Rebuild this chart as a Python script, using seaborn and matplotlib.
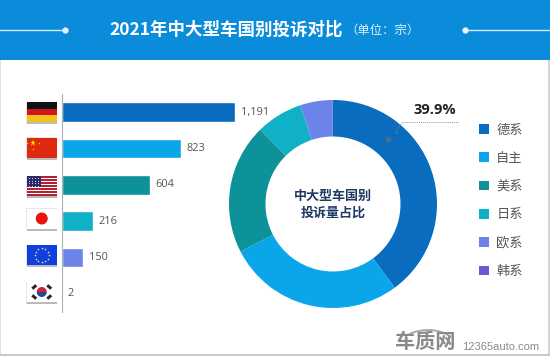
import numpy as np
import pandas as pd
import matplotlib
matplotlib.use('Agg')
import matplotlib.pyplot as plt
from matplotlib.patches import Rectangle, Circle, Wedge, Arc
import seaborn as sns

W, H = 550, 356

origins = ['德系', '自主', '美系', '日系', '欧系', '韩系']
complaints = [1191, 823, 604, 216, 150, 2]
colors = ['#0A6CBE', '#0BA6EA', '#0C9298', '#10B1C6', '#6C84EA', '#6A58D6']
title = '2021年中大型车国别投诉对比'
unit = '（单位：宗）'
center_label = '中大型车国别\n投诉量占比'
share_label = '39.9%'

sns.set_theme(style='white')
plt.rcParams['font.family'] = ['Noto Sans CJK SC', 'DejaVu Sans']

fig = plt.figure(figsize=(W / 100, H / 100), dpi=100, facecolor='white')


def px_axes(left, top, right, bottom, **kw):
    return fig.add_axes([left / W, 1 - bottom / H, (right - left) / W, (bottom - top) / H], **kw)


# overlay in pixel coords for header, flags, frame
bg = px_axes(0, 0, W, H, zorder=0)
bg.set_xlim(0, W)
bg.set_ylim(H, 0)
bg.axis('off')

bg.plot([0, 0], [60, H], color='#E2E2E2', lw=1.5, solid_capstyle='butt')
bg.plot([W, W], [60, H], color='#D5D5D5', lw=3, solid_capstyle='butt')
bg.plot([0, W], [355, 355], color='#C9C9C9', lw=1.5, solid_capstyle='butt')
bg.add_patch(Rectangle((0, 0), W, 60, color='#0A8CDB', lw=0))
bg.plot([0, 65], [30, 30], color='#CFEAFA', lw=1)
bg.plot([465, W], [30, 30], color='#CFEAFA', lw=1)
bg.plot([65, 465], [30, 30], ls='none', marker='o', ms=3.5, color='#E4F4FD')
bg.text(109, 29.5, title, color='white', fontsize=12.6, fontweight='bold', ha='left', va='center')
bg.text(345, 30.5, unit, color='#DCF0FB', fontsize=8.9, ha='left', va='center')

# bars
ax = px_axes(61.5, 94, 61.5 + 1300 * 0.1457, 312, zorder=2)
ax.patch.set_alpha(0)
df = pd.DataFrame({'origin': origins, 'complaints': complaints})
sns.barplot(data=df, x='complaints', y='origin', hue='origin', palette=colors, orient='h',
            width=0.55, saturation=1, legend=False, ax=ax)
ax.set_xlim(0, 1300)
ax.set_ylim(5.5, -0.5)
ax.set(xlabel='', ylabel='', xticks=[], yticks=[])
sns.despine(ax=ax, top=True, right=True, bottom=True)
ax.spines['left'].set_color('#B0B0B0')
ax.spines['left'].set_linewidth(0.8)
for c in ax.containers:
    ax.bar_label(c, fmt='{:,.0f}', padding=4, fontsize=7.9, color='#555555', family='Open Sans')


# flags
def flag_base(cy):
    # soft shadow round the flag, heavier along the bottom
    bg.add_patch(Rectangle((x0 - 0.8, cy - 10.5), fw + 1.6, 22, color='#E6E6E6', lw=0))
    bg.add_patch(Rectangle((x0 - 0.3, cy - 8), fw + 0.6, 20, color='#BBBBBB', lw=0))


def stars(cx, cy, r, n, color, ms=1.2):
    a = np.linspace(0, 2 * np.pi, n, endpoint=False)
    bg.plot(cx + r * np.cos(a), cy + r * np.sin(a), ls='none', marker='*', ms=ms, color=color, mew=0)


x0, fw = 27, 29.5

cy = 112
flag_base(cy)
for i, c in enumerate(['#111111', '#D2141C', '#F4C21C']):
    bg.add_patch(Rectangle((x0, cy - 10 + i * 6.6), fw, 6.7, color=c, lw=0))

cy = 147.5
flag_base(cy)
bg.add_patch(Rectangle((x0, cy - 10), fw, 20, color='#DE2910', lw=0))
bg.plot(32.5, cy - 5, marker='*', ms=5, color='#FFDE00', mew=0)
stars(33, cy - 5, 6, 4, '#FFDE00', 1.6)

cy = 186
flag_base(cy)
for i in range(13):
    bg.add_patch(Rectangle((x0, cy - 10 + i * 20 / 13), fw, 20 / 13,
                           color='#B22234' if i % 2 == 0 else 'white', lw=0))
bg.add_patch(Rectangle((x0, cy - 10), 14, 10.8, color='#2A2A6A', lw=0))
for sx in np.arange(x0 + 2, x0 + 14, 3):
    for sy in np.arange(cy - 8, cy, 2.5):
        bg.plot(sx, sy, marker='o', ms=0.7, color='#DDDDEE', mew=0)

cy = 218.5
flag_base(cy)
bg.add_patch(Rectangle((x0, cy - 10), fw, 20, color='white', lw=0))
bg.add_patch(Circle((x0 + fw / 2, cy), 6, color='#EE1111', lw=0))

cy = 255
flag_base(cy)
bg.add_patch(Rectangle((x0, cy - 10), fw, 20, color='#0F3FE0', lw=0))
stars(x0 + fw / 2, cy, 7, 12, '#F4E36A', 2)

cy = 292
flag_base(cy)
bg.add_patch(Rectangle((x0, cy - 10), fw, 20, color='white', lw=0))
kx = x0 + fw / 2
bg.add_patch(Wedge((kx, cy), 5, 180, 360, color='#D21F3C', lw=0))
bg.add_patch(Wedge((kx, cy), 5, 0, 180, color='#1E4A9E', lw=0))
for dx, dy in [(-7.5, -5), (7.5, -5), (-7.5, 5), (7.5, 5)]:
    s = 1 if dx * dy > 0 else -1
    bg.plot([kx + dx - 2, kx + dx + 2], [cy + dy + 1.7 * s, cy + dy - 1.7 * s], color='#2A2A2A', lw=2.2,
            solid_capstyle='butt')

# donut
pie_ax = px_axes(333 - 104, 204 - 104, 333 + 104, 204 + 104, zorder=2)
wedges, _ = pie_ax.pie(complaints, colors=colors, startangle=90, counterclock=False, radius=1,
                       wedgeprops=dict(width=1 - 67.5 / 104, lw=0))
pie_ax.set_xlim(-1, 1)
pie_ax.set_ylim(-1, 1)
pie_ax.text(0, 0.0, center_label, ha='center', va='center', fontsize=9.4, fontweight='bold',
            color='#1F3864', linespacing=1.25)

# share callout
top = px_axes(0, 0, W, H, zorder=3)
top.set_xlim(0, W)
top.set_ylim(H, 0)
top.axis('off')
top.patch.set_alpha(0)
top.plot([403, 459], [122, 122], color='#9A9A9A', lw=0.7, ls=(0, (1, 1)))
top.plot([396, 403], [130, 122], color='#C8803A', lw=0.6, ls=(0, (1, 1)))
top.plot([388], [139], marker='o', ms=4, color='#4F6E86', mew=0)
top.plot([396], [132], marker='o', ms=1.8, color='#3F7FB0', mew=0)
top.text(435, 110, share_label, ha='center', va='center', fontsize=10.5, fontweight='bold',
         color='#222222', family='Open Sans')

# legend
fig.legend(wedges, origins, loc='upper left', bbox_to_anchor=(479 / W, 1 - 123.5 / H), frameon=False,
           fontsize=9.5, handlelength=0.76, handleheight=0.76, handletextpad=0.55, labelspacing=1.16,
           borderpad=0, borderaxespad=0, labelcolor='#555555')

# watermark
top.text(425, 341, '车质网', ha='center', va='center', fontsize=14.5, fontweight='bold', color='#8A8A8A')
top.add_patch(Arc((428, 344), 52, 28, theta1=195, theta2=345, color='#A8A8A8', lw=1.3))
top.text(501, 347, '12365auto.com', ha='center', va='center', fontsize=8, color='#8A8A8A', family='Liberation Sans')

fig.savefig('out.png', dpi=100)
